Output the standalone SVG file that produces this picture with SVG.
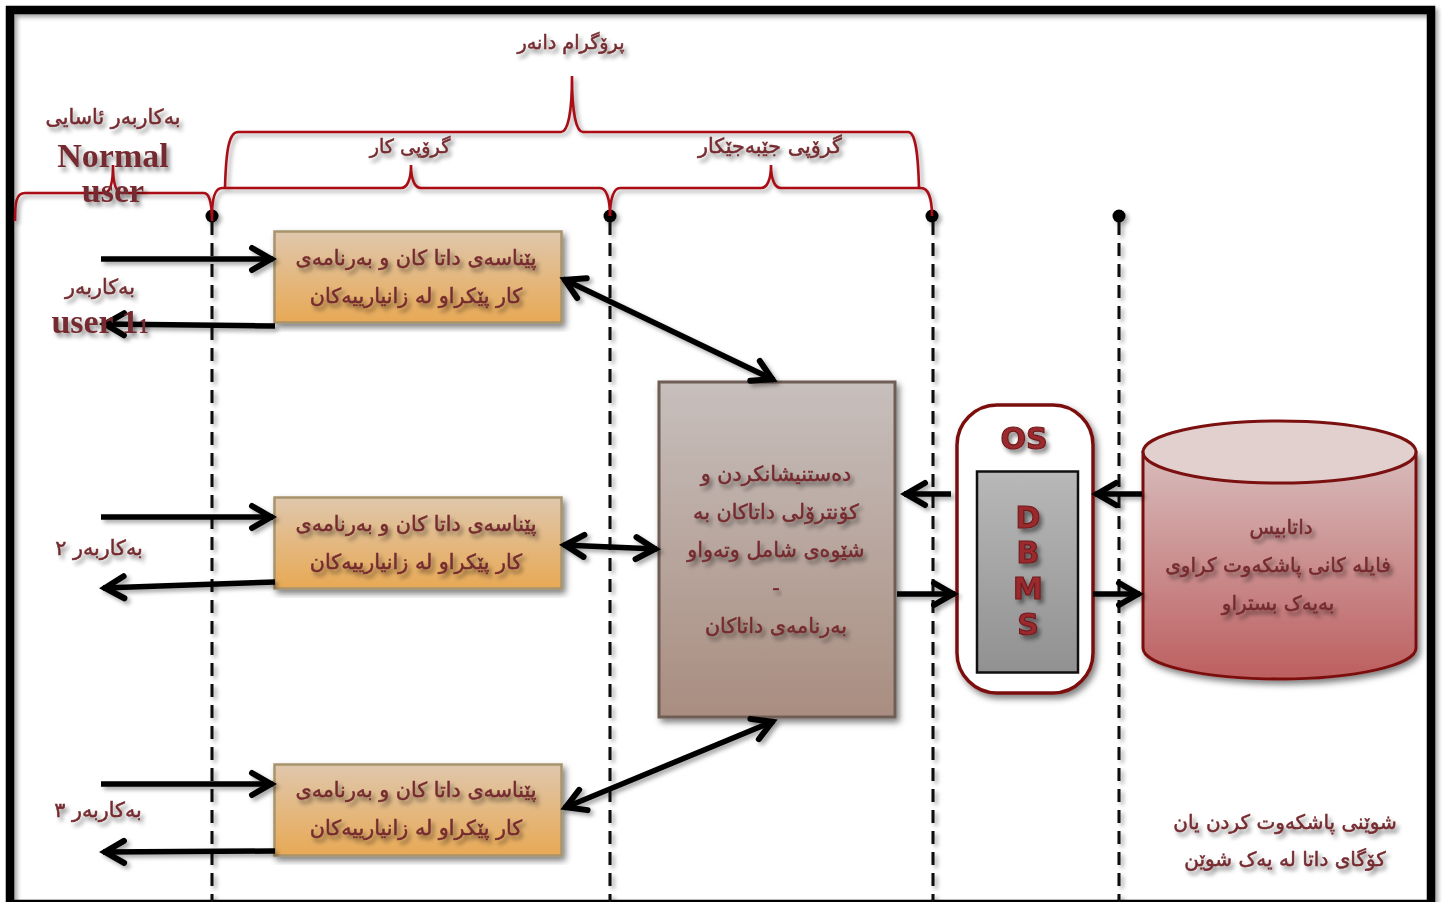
<svg xmlns="http://www.w3.org/2000/svg" width="1442" height="902" viewBox="0 0 1442 902">
<style>
text{font-family:"DejaVu Sans",sans-serif;font-weight:bold;fill:#752c30;text-anchor:middle;filter:url(#ts)}
.ar{direction:rtl;font-size:20.700px;font-weight:normal;stroke:#752c30;stroke-width:.5}
.s19{font-size:19.200px}
.s20{font-size:20px}
.lat{font-family:"Liberation Serif",serif;font-size:34px;direction:ltr}
.db{font-size:30px;direction:ltr;fill:#9a2b2e;stroke:#701a1e;stroke-width:1.200}
.ln{fill:none;stroke:#050505;stroke-width:5.500}
.ah{marker-end:url(#h)}
.ab{marker-end:url(#h);marker-start:url(#h)}
.dash{fill:none;stroke:#0a0a0a;stroke-width:3;stroke-dasharray:13 8}
.dot{fill:#050505}
.br{fill:none;stroke:#a90f16;stroke-width:2.600}
.box{fill:url(#gb);stroke:#a8946c;stroke-width:2.500;filter:url(#bs)}
</style>
<defs>
<filter id="ts" x="-20%" y="-50%" width="140%" height="220%"><feDropShadow dx="3" dy="4" stdDeviation="2.200" flood-color="#000" flood-opacity=".45"/></filter>
<filter id="ss" filterUnits="userSpaceOnUse" x="0" y="0" width="1442" height="902"><feDropShadow dx="3" dy="3" stdDeviation="2" flood-color="#000" flood-opacity=".35"/></filter>
<filter id="bs" x="-10%" y="-10%" width="120%" height="120%"><feDropShadow dx="3" dy="4" stdDeviation="3" flood-color="#000" flood-opacity=".5"/></filter>
<linearGradient id="gb" x1="0" y1="0" x2="0" y2="1"><stop offset="0" stop-color="#dfc7ac"/><stop offset="1" stop-color="#e8a955"/></linearGradient>
<linearGradient id="gc" x1="0" y1="0" x2="0" y2="1"><stop offset="0" stop-color="#c7bfbc"/><stop offset="1" stop-color="#a98d80"/></linearGradient>
<linearGradient id="gd" x1="0" y1="0" x2="0" y2="1"><stop offset="0" stop-color="#b8b8b8"/><stop offset="1" stop-color="#919191"/></linearGradient>
<linearGradient id="gy" x1="0" y1="0" x2="0" y2="1"><stop offset="0" stop-color="#d8bcbc"/><stop offset="1" stop-color="#bd5f60"/></linearGradient>
<marker id="h" markerUnits="userSpaceOnUse" markerWidth="36" markerHeight="36" refX="30" refY="18" orient="auto-start-reverse"><path d="M9 7L28 18L9 29" fill="none" stroke="#050505" stroke-width="6" stroke-linecap="round"/></marker>
</defs>
<rect width="1442" height="902" fill="#fff"/>
<rect id="frame" x="10" y="10" width="1421" height="894" fill="none" stroke="#000" stroke-width="8.500" filter="url(#ss)"/>

<g id="guides" filter="url(#ss)">
<path class="dash" d="M212 222V902"/><path class="dash" d="M610 222V902"/><path class="dash" d="M933 222V902"/><path class="dash" d="M1119 222V902"/>
<circle class="dot" cx="212" cy="216" r="6.500"/><circle class="dot" cx="610" cy="216" r="6.500"/><circle class="dot" cx="932" cy="216" r="6.500"/><circle class="dot" cx="1119" cy="216" r="6.500"/>
</g>

<g id="brackets" filter="url(#ss)">
<path class="br" d="M15 221C15 203 16 193 25 193H104C110 193 113 184 113 165C113 184 116 193 122 193H204C209 193 212 203 212 221"/>
<path class="br" d="M212 216C212 198 215 188 222 188H401C407 188 411 180 411 165C411 180 415 188 421 188H600C606 188 610 198 610 216"/>
<path class="br" d="M610 216C610 198 614 188 620 188H761C767 188 771 180 771 165C771 180 775 188 781 188H921C928 188 932 198 932 216"/>
<path class="br" d="M225 188C226 150 229 132 238 132H561C568 132 572 112 572 76C572 112 576 132 583 132H908C915 132 918 150 919 188"/>
</g>

<g id="node-d1"><rect class="box" x="274.500" y="231.500" width="287" height="91"/><text class="ar" x="416" y="265">پێناسەی داتا کان و بەرنامەی</text><text class="ar" x="416" y="303">کار پێکراو لە زانیارییەکان</text></g>
<g id="node-d2"><rect class="box" x="274.500" y="497.500" width="287" height="91"/><text class="ar" x="416" y="531">پێناسەی داتا کان و بەرنامەی</text><text class="ar" x="416" y="569">کار پێکراو لە زانیارییەکان</text></g>
<g id="node-d3"><rect class="box" x="274.500" y="764.500" width="287" height="91"/><text class="ar" x="416" y="797">پێناسەی داتا کان و بەرنامەی</text><text class="ar" x="416" y="835">کار پێکراو لە زانیارییەکان</text></g>

<g id="node-core"><rect x="659" y="382" width="236" height="335" fill="url(#gc)" stroke="#6f5d55" stroke-width="3" filter="url(#bs)"/>
<text class="ar" x="776" y="481">دەستنیشانکردن و</text><text class="ar" x="776" y="519">کۆنترۆلی داتاکان بە</text><text class="ar" x="776" y="557">شێوەی شامل وتەواو</text><text class="ar" x="776" y="595">-</text><text class="ar" x="776" y="633">بەرنامەی داتاکان</text></g>

<g id="node-os"><rect x="957" y="405" width="136" height="288" rx="40" fill="#fff" stroke="#7b1010" stroke-width="3.500" filter="url(#bs)"/>
<text class="db" x="1024" y="449">OS</text></g>
<g id="node-dbms"><rect x="977" y="471.500" width="101" height="201" fill="url(#gd)" stroke="#101010" stroke-width="2.500"/>
<text class="db" x="1028" y="528">D</text><text class="db" x="1028" y="563">B</text><text class="db" x="1028" y="599">M</text><text class="db" x="1028" y="635">S</text></g>

<g id="node-database">
<g filter="url(#bs)"><path d="M1143 452V648C1143 665 1204 679 1279.500 679S1416 665 1416 648V452Z" fill="url(#gy)" stroke="#7b1010" stroke-width="3"/></g>
<ellipse cx="1279.500" cy="452" rx="136.500" ry="31" fill="#e2d0ce" stroke="#7b1010" stroke-width="3"/>
<text class="ar s20" x="1281" y="534">داتابیس</text><text class="ar s20" x="1278" y="572">فایلە کانی پاشکەوت کراوی</text><text class="ar s20" x="1278" y="610">بەیەک بستراو</text></g>

<g id="connectors" filter="url(#ss)">
<path class="ln ah" d="M101 259H273"/><path class="ln ah" d="M275 326L103 324"/>
<path class="ln ab" d="M563 279L774 380"/>
<path class="ln ah" d="M101 517H273"/><path class="ln ah" d="M275 582L103 588"/>
<path class="ln ab" d="M563 545L657 549"/>
<path class="ln ah" d="M101 784H273"/><path class="ln ah" d="M275 851L103 852"/>
<path class="ln ab" d="M564 808L774 721"/>
<path class="ln ah" d="M951 494H904"/><path class="ln ah" d="M1142 494H1095"/>
<path class="ln ah" d="M897 594H955"/><path class="ln ah" d="M1093 594H1140"/>
</g>

<g id="labels">
<text class="ar s19" x="571" y="49">پرۆگرام دانەر</text>
<text class="ar" x="113" y="124">بەکاربەر ئاسایی</text>
<text class="lat" x="113" y="167">Normal</text>
<text class="lat" x="113" y="202">user</text>
<text class="ar s19" x="410" y="153">گرۆپی کار</text>
<text class="ar" x="770" y="153">گرۆپی جێبەجێکار</text>
<text class="ar" x="100" y="294">بەکاربەر</text>
<text class="lat" x="100" y="333">user 1<tspan font-size="20">1</tspan></text>
<text class="ar" x="99" y="555">بەکاربەر ٢</text>
<text class="ar" x="98" y="817">بەکاربەر ٣</text>
<text class="ar s20" x="1285" y="829">شوێنی پاشکەوت کردن یان</text>
<text class="ar s20" x="1285" y="866">کۆگای داتا لە یەک شوێن</text>
</g>
</svg>
